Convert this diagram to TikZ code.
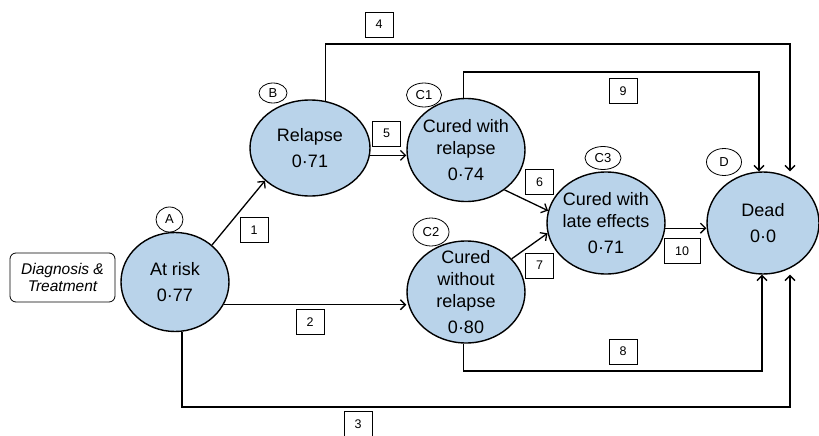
\documentclass[tikz,border=0pt]{standalone}
\usepackage{fontspec}
\setmainfont{Liberation Sans}
\usetikzlibrary{shapes.geometric,arrows.meta}
\definecolor{stateblue}{RGB}{185,211,234}

\begin{document}
\begin{tikzpicture}[x=1pt,y=-1pt,
    state/.style={ellipse,draw,line width=1.4pt,fill=stateblue,inner sep=0pt,minimum width=118pt,minimum height=102pt},
    statetext/.style={align=center,inner sep=0pt,font=\fontsize{18}{22}\selectfont},
    tag/.style={ellipse,draw,line width=0.8pt,fill=white,inner sep=0pt,minimum width=35pt,minimum height=25pt,font=\fontsize{13}{15}\selectfont},
    num/.style={rectangle,draw,line width=0.8pt,fill=white,minimum width=28pt,minimum height=25pt,inner sep=0pt,font=\fontsize{12.5}{14}\selectfont},
    trans/.style={line width=1.3pt,-{Straight Barb[length=5pt,width=10pt]}}]
    \useasboundingbox (0,0) rectangle (819,436);

    \node[rectangle,draw,rounded corners=6pt,line width=0.8pt,minimum width=105pt,minimum height=49pt,align=center,font=\fontsize{15.5}{17}\selectfont\itshape] (diag) at (62.5,277.5) {Diagnosis \&\\Treatment};

    \node[state,minimum width=108pt,minimum height=99pt] (A) at (175,282) {};
    \node[state,minimum width=120pt,minimum height=96pt] (B) at (310,148) {};
    \node[state,minimum height=103pt] (C1) at (466,150) {};
    \node[state] (C2) at (466,292) {};
    \node[state] (C3) at (606,223) {};
    \node[state,minimum width=112pt] (D) at (763,223) {};

    \node[statetext] (At) at (A) {At risk\\[4pt]0·77};
    \node[statetext] (Bt) at (B) {Relapse\\[4pt]0·71};
    \node[statetext] (C1t) at (C1) {Cured with\\relapse\\[4pt]0·74};
    \node[statetext] (C2t) at (C2) {Cured\\without\\relapse\\[4pt]0·80};
    \node[statetext] (C3t) at (C3) {Cured with\\late effects\\[4pt]0·71};
    \node[statetext] (Dt) at (D) {Dead\\[4pt]0·0};

    \node[tag,minimum width=27pt] (tA) at (169.5,219.5) {A};
    \node[tag,minimum width=28pt,minimum height=20pt] (tB) at (273,93) {B};
    \node[tag,minimum height=24pt] (tC1) at (424,95) {C1};
    \node[tag,minimum width=36pt,minimum height=28pt] (tC2) at (431,232) {C2};
    \node[tag,minimum width=36pt,minimum height=23pt] (tC3) at (603,158) {C3};
    \node[tag,minimum height=27pt] (tD) at (724,162) {D};

    \coordinate (r3) at (790,407);
    \coordinate (r4) at (790,44);
    \coordinate (r8) at (762,371);
    \coordinate (r9) at (759,72);

    \draw[trans] (A.45) -- (B.216);
    \draw[trans] (A.335) -- (A.335 -| C2.west);
    \draw[trans] (A.278) |- (r3) -- (r3 |- D.south);
    \draw[trans] (B.72) |- (r4) -- (r4 |- D.north);
    \draw[trans] (B.353) -- (B.353 -| C1.west);
    \draw[trans] (C1.314) -- (C3.168);
    \draw[trans] (C2.36) -- (C3.190);
    \draw[trans] (C2.267) |- (r8) -- (r8 |- D.south);
    \draw[trans] (C1.93) |- (r9) -- (r9 |- D.north);
    \draw[trans] (C3.355) -- (C3.355 -| D.west);

    \node[num] (n1) at (254,230) {1};
    \node[num] (n2) at (310,322) {2};
    \node[num] (n3) at (358,424) {3};
    \node[num] (n4) at (379,24.5) {4};
    \node[num] (n5) at (386.5,133.5) {5};
    \node[num] (n6) at (539.5,182) {6};
    \node[num] (n7) at (539.5,265.5) {7};
    \node[num] (n8) at (623,351.5) {8};
    \node[num] (n9) at (623,91) {9};
    \node[num,minimum width=36pt] (n10) at (682,251) {10};

\end{tikzpicture}
\end{document}
